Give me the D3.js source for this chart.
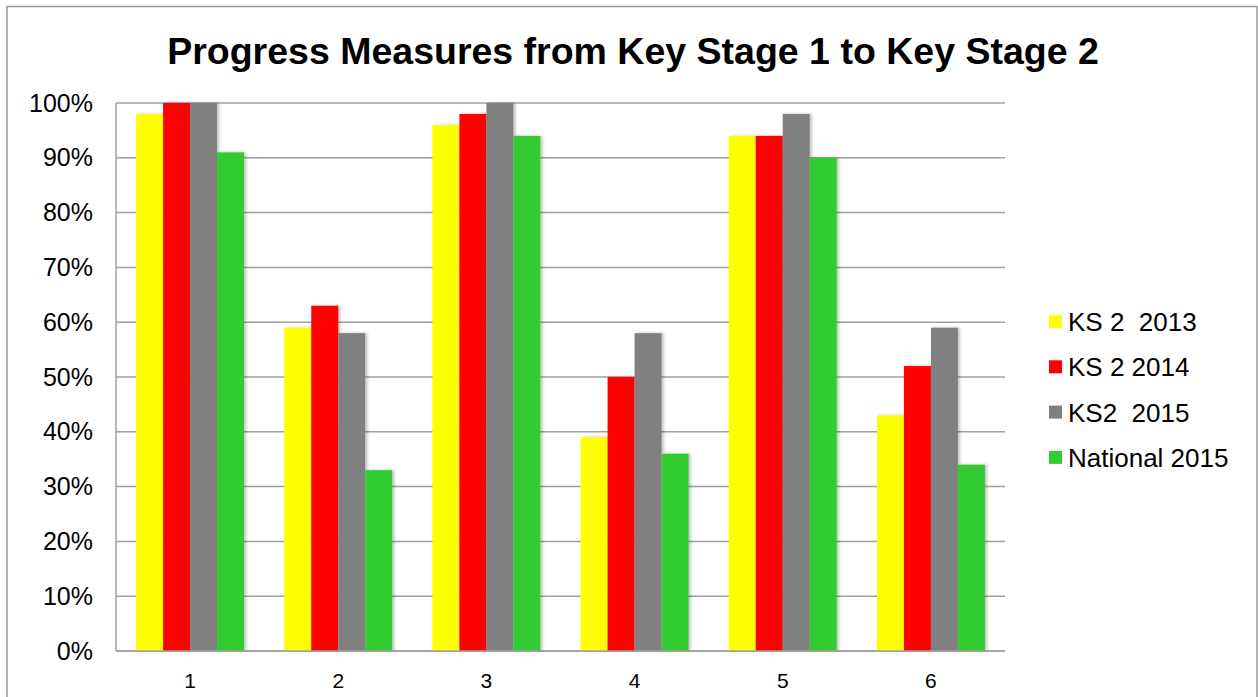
<!DOCTYPE html>
<html><head><meta charset="utf-8">
<script src="https://cdn.jsdelivr.net/npm/d3@7"></script>
<style>html,body{margin:0;padding:0;background:#fff;}svg{display:block;font-family:"Liberation Sans",Arial,sans-serif;}</style>
</head><body>
<svg id="c" width="1258" height="697"></svg>
<script>
const categories = ["1","2","3","4","5","6"];
const seriesNames = ["KS 2  2013","KS 2 2014","KS2  2015","National 2015"];
const seriesColors = ["#ffff00","#ff0000","#808080","#33cc33"];
const ks2013 = [98,59,96,39,94,43];
const ks2014 = [100,63,98,50,94,52];
const ks2015 = [100,58,100,58,98,59];
const national2015 = [91,33,94,36,90,34];
const yTicks = [0,10,20,30,40,50,60,70,80,90,100];
const title = "Progress Measures from Key Stage 1 to Key Stage 2";

const seriesValues = [ks2013, ks2014, ks2015, national2015];
const svg = d3.select("#c");
const defs = svg.append("defs");
const f = defs.append("filter").attr("id","sh").attr("x","-20%").attr("y","-5%").attr("width","150%").attr("height","110%");
f.append("feDropShadow").attr("dx",2).attr("dy",0).attr("stdDeviation",1.5).attr("flood-color","#000").attr("flood-opacity",0.25);

// frame
svg.append("rect").attr("x",7).attr("y",6.5).attr("width",1250).attr("height",700)
  .attr("fill","none").attr("stroke","#999").attr("stroke-width",1.5);

const L=116, R=1005, T=103, B=651;
const x0 = d3.scaleBand().domain(categories).range([L,R]).paddingInner(0).paddingOuter(0);
const x1 = d3.scaleBand().domain(d3.range(4)).range([0,x0.bandwidth()]).paddingOuter(0.744).paddingInner(0);
const y = d3.scaleLinear().domain([0,100]).range([B,T]);

// gridlines
svg.append("g").selectAll("line").data(yTicks).join("line")
  .attr("x1",L).attr("x2",R).attr("y1",d=>y(d)).attr("y2",d=>y(d))
  .attr("stroke","#a0a0a0").attr("stroke-width",1.5);
// left axis line
svg.append("line").attr("x1",L).attr("x2",L).attr("y1",T).attr("y2",B).attr("stroke","#a0a0a0").attr("stroke-width",1.5);

// y labels
const yAxis = d3.axisLeft(y).tickValues(yTicks).tickFormat(d=>d+"%").tickSize(0).tickPadding(23);
const ya = svg.append("g").attr("transform",`translate(${L},0)`).call(yAxis);
ya.select(".domain").remove();
ya.selectAll("text").attr("font-size",25).attr("fill","#000").attr("font-family","'Liberation Sans',Arial,sans-serif");

// bars
const g = svg.append("g");
categories.forEach((c,i)=>{
  seriesValues.forEach((vals,s)=>{
    g.append("rect").attr("x",x0(c)+x1(s)).attr("y",y(vals[i]))
      .attr("width",x1.bandwidth()).attr("height",B-y(vals[i]))
      .attr("fill",seriesColors[s]).attr("filter","url(#sh)");
  });
});
// x axis line
svg.append("line").attr("x1",L).attr("x2",R).attr("y1",B).attr("y2",B).attr("stroke","#a0a0a0").attr("stroke-width",1.5);

const xAxis = d3.axisBottom(x0).tickSize(0).tickPadding(22);
const xa = svg.append("g").attr("transform",`translate(0,${B})`).call(xAxis);
xa.select(".domain").remove();
xa.selectAll("text").attr("font-size",21).attr("fill","#000").attr("font-family","'Liberation Sans',Arial,sans-serif");

// title
svg.append("text").attr("x",633).attr("y",64).attr("text-anchor","middle")
  .attr("font-size",37.5).attr("font-weight","bold").text(title);

// legend
const lg = svg.append("g");
seriesNames.forEach((n,i)=>{
  const yy = 322 + i*45.3;
  lg.append("rect").attr("x",1049).attr("y",yy-7).attr("width",13).attr("height",13).attr("fill",seriesColors[i]);
  lg.append("text").attr("x",1068).attr("y",yy+9).attr("font-size",26).attr("xml:space","preserve").style("white-space","pre").text(n);
});
</script>
</body></html>
